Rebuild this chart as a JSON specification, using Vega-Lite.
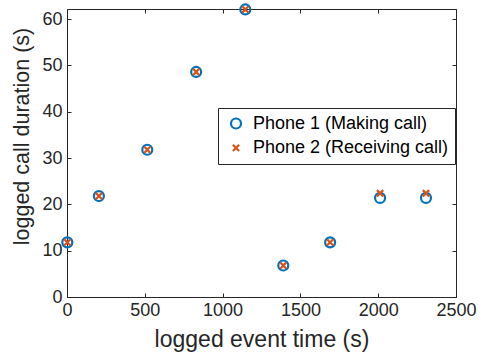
{
  "$schema": "https://vega.github.io/schema/vega-lite/v6.json",
  "autosize": "none",
  "width": 389,
  "height": 288,
  "padding": {"left": 67, "top": 9, "right": 25, "bottom": 63},
  "background": "white",
  "config": {
    "font": "Liberation Sans",
    "view": {"stroke": "#262626", "strokeWidth": 1},
    "axis": {
      "grid": false,
      "domainColor": "#262626",
      "tickColor": "#262626",
      "labelColor": "#262626",
      "titleColor": "#262626",
      "labelFont": "Liberation Sans",
      "titleFont": "Liberation Sans",
      "labelFontSize": 18,
      "titleFontSize": 21.5,
      "titleFontWeight": "normal",
      "labelFlush": false,
      "labelOverlap": false,
      "tickSize": -4,
      "tickWidth": 1,
      "domainWidth": 1
    }
  },
  "data": {
    "values": [
      {"series": "Phone 1 (Making call)", "time": 2, "duration": 11.8},
      {"series": "Phone 1 (Making call)", "time": 205, "duration": 21.8},
      {"series": "Phone 1 (Making call)", "time": 516, "duration": 31.8},
      {"series": "Phone 1 (Making call)", "time": 830, "duration": 48.6},
      {"series": "Phone 1 (Making call)", "time": 1146, "duration": 62.1},
      {"series": "Phone 1 (Making call)", "time": 1390, "duration": 6.8},
      {"series": "Phone 1 (Making call)", "time": 1691, "duration": 11.8},
      {"series": "Phone 1 (Making call)", "time": 2012, "duration": 21.4},
      {"series": "Phone 1 (Making call)", "time": 2307, "duration": 21.4},
      {"series": "Phone 2 (Receiving call)", "time": 2, "duration": 11.8},
      {"series": "Phone 2 (Receiving call)", "time": 205, "duration": 21.8},
      {"series": "Phone 2 (Receiving call)", "time": 516, "duration": 31.8},
      {"series": "Phone 2 (Receiving call)", "time": 830, "duration": 48.6},
      {"series": "Phone 2 (Receiving call)", "time": 1146, "duration": 62.1},
      {"series": "Phone 2 (Receiving call)", "time": 1390, "duration": 6.8},
      {"series": "Phone 2 (Receiving call)", "time": 1691, "duration": 11.8},
      {"series": "Phone 2 (Receiving call)", "time": 2012, "duration": 22.4},
      {"series": "Phone 2 (Receiving call)", "time": 2307, "duration": 22.4}
    ]
  },
  "layer": [
    {
      "mark": {"type": "point", "filled": false, "strokeWidth": 2.2, "opacity": 1},
      "encoding": {
        "x": {
          "field": "time", "type": "quantitative",
          "scale": {"domain": [0, 2500], "nice": false, "zero": false},
          "axis": {"orient": "bottom", "title": "logged event time (s)", "format": "d", "values": [0, 500, 1000, 1500, 2000, 2500], "labelPadding": 8, "titleFontSize": 23, "titleBaseline": "alphabetic", "titleY": 49}
        },
        "y": {
          "field": "duration", "type": "quantitative",
          "scale": {"domain": [0, 62.2], "nice": false, "zero": false},
          "axis": {"orient": "left", "title": "logged call duration (s)", "format": "d", "values": [0, 10, 20, 30, 40, 50, 60], "labelPadding": 9, "titleBaseline": "alphabetic", "titleAngle": -90, "titleAlign": "center", "titleX": -39, "titleY": 127}
        },
        "color": {
          "field": "series", "type": "nominal",
          "scale": {"range": ["#0072BD", "#D95319"]},
          "legend": {
            "title": null,
            "orient": "none",
            "legendX": 151,
            "legendY": 99,
            "fillColor": "white",
            "strokeColor": "#262626",
            "padding": 6.5,
            "rowPadding": 5.4,
            "labelFont": "Liberation Sans",
            "labelFontSize": 18,
            "labelLimit": 400,
            "labelColor": "#000000",
            "labelOffset": 8,
            "symbolOffset": 2.5,
            "symbolStrokeWidth": 2.2
          }
        },
        "shape": {
          "field": "series", "type": "nominal",
          "scale": {"range": ["circle", "M-1,-1L1,1M-1,1L1,-1"]}
        },
        "size": {
          "field": "series", "type": "nominal",
          "scale": {"range": [100, 40]}
        }
      }
    },
    {
      "mark": {"type": "point", "opacity": 0},
      "encoding": {
        "x": {"field": "time", "type": "quantitative", "axis": {"orient": "top", "labels": false, "title": null, "domain": false, "values": [0, 500, 1000, 1500, 2000, 2500]}},
        "y": {"field": "duration", "type": "quantitative", "axis": {"orient": "right", "labels": false, "title": null, "domain": false, "values": [0, 10, 20, 30, 40, 50, 60]}}
      }
    }
  ],
  "resolve": {"axis": {"x": "independent", "y": "independent"}}
}
